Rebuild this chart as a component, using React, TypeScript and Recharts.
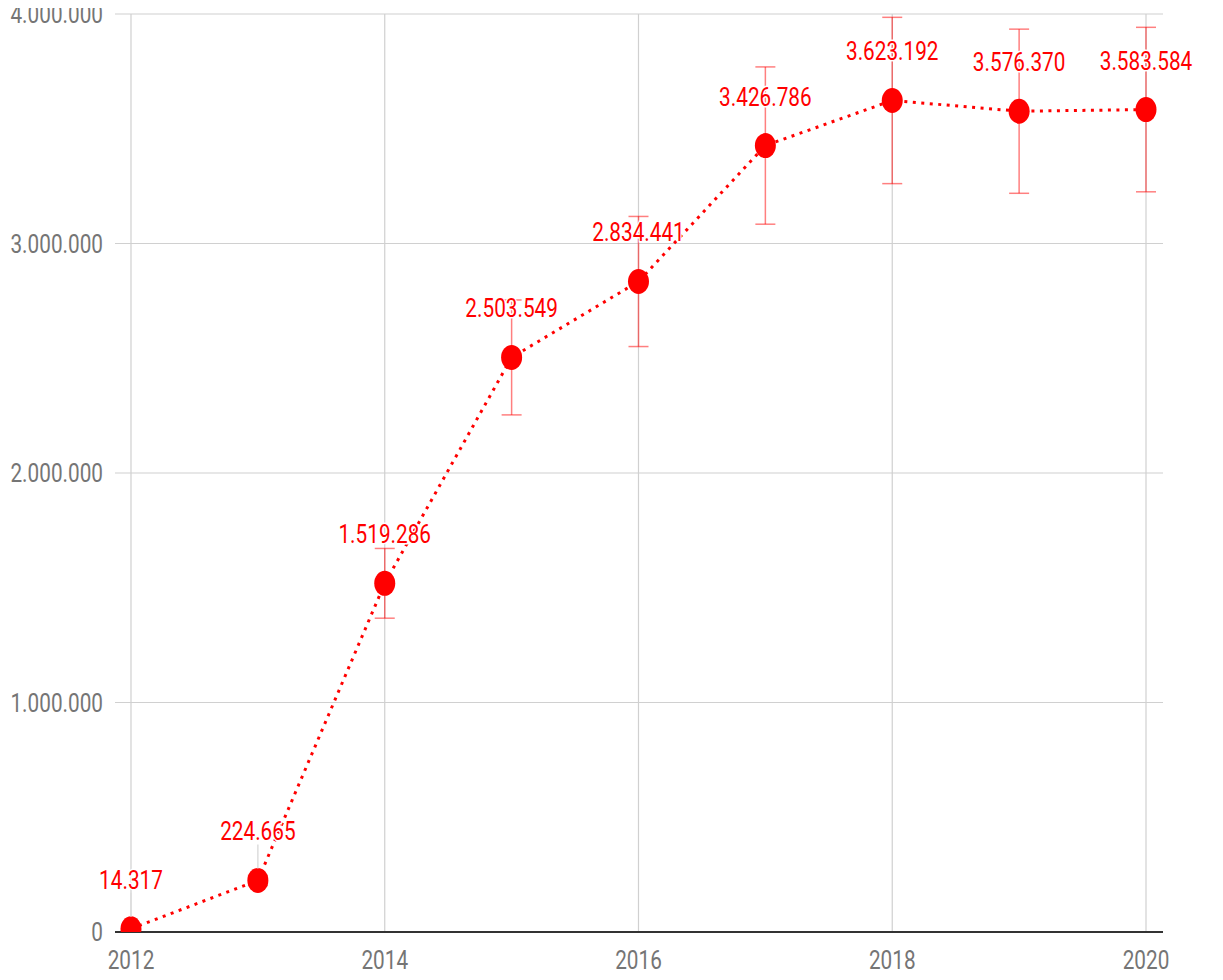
import React from 'react';
import { LineChart, Line, XAxis, YAxis, CartesianGrid, ErrorBar, LabelList, ReferenceLine } from 'recharts';

const years = [2012, 2013, 2014, 2015, 2016, 2017, 2018, 2019, 2020];
const values = [14317, 224665, 1519286, 2503549, 2834441, 3426786, 3623192, 3576370, 3583584];
const errors = [1432, 22467, 151929, 250355, 283444, 342679, 362319, 357637, 358358];
const xTicks = [2012, 2014, 2016, 2018, 2020];
const yTicks = [0, 1000000, 2000000, 3000000, 4000000];

const data = years.map((year, i) => ({ year, v: values[i], err: errors[i] }));

const FONT = 'Roboto, sans-serif';
const SX = 0.83;
const fmt = (n: number) => String(Math.round(n)).replace(/\B(?=(\d{3})+(?!\d))/g, '.');

const YTick = (props: any) => {
  const { x, y, payload } = props;
  return (
    <text transform={`translate(${x},${y}) scale(${SX},1)`} textAnchor="end" dy={9} fill="#757575" fontSize={25} fontFamily={FONT}>
      {fmt(payload.value)}
    </text>
  );
};

const XTick = (props: any) => {
  const { x, y, payload } = props;
  return (
    <text transform={`translate(${x},${y}) scale(${SX},1)`} textAnchor="middle" dy={37} fill="#757575" fontSize={25} fontFamily={FONT}>
      {payload.value}
    </text>
  );
};

const Stem = (props: any) => {
  const { x, y, index } = props;
  if (errors[index] > 100000) return null;
  return <line x1={x} x2={x} y1={y - 36} y2={y - 12} stroke="#dddddd" strokeWidth={1.5} />;
};

const Label = (props: any) => {
  const { x, y, value } = props;
  return (
    <text
      transform={`translate(${x},${y - 40}) scale(${SX},1)`}
      textAnchor="middle"
      fill="#ff0000"
      fontSize={25}
      fontFamily={FONT}
      stroke="#ffffff"
      strokeWidth={3}
      paintOrder="stroke"
    >
      {fmt(value)}
    </text>
  );
};

const Dot = (props: any) => {
  const { cx, cy, index } = props;
  return <ellipse key={`d${index}`} cx={cx} cy={cy} rx={10.5} ry={12.5} fill="#ff0000" />;
};

export default function App() {
  return (
    <div style={{ margin: '-8px 0 0 -8px', width: 1223, height: 980, background: '#fff' }}>
      <LineChart width={1223} height={980} data={data} margin={{ top: 14, right: 60, left: 15, bottom: 0 }}>
        <CartesianGrid stroke="#d0d0d0" strokeWidth={1.2} vertical={false} />
        {xTicks.map((t) => (
          <ReferenceLine key={`vx${t}`} x={t} stroke="#d0d0d0" strokeWidth={1.2} />
        ))}
        <XAxis
          dataKey="year"
          type="number"
          domain={[2011.874, 2020.134]}
          allowDataOverflow
          ticks={xTicks}
          interval={0}
          tickLine={false}
          axisLine={false}
          tickSize={0}
          tickMargin={0}
          height={48}
          tick={<XTick />}
        />
        <YAxis
          type="number"
          domain={[0, 4000000]}
          allowDataOverflow
          ticks={yTicks}
          interval={0}
          tickLine={false}
          axisLine={false}
          tickSize={0}
          tickMargin={12}
          width={100}
          tick={<YTick />}
        />
        <Line dataKey="v" stroke="none" dot={false} activeDot={false} isAnimationActive={false}>
          <ErrorBar dataKey="err" direction="y" width={10} stroke="rgba(255,0,0,0.5)" strokeWidth={1.5} />
          <LabelList dataKey="v" content={<Stem />} />
        </Line>
        <Line
          dataKey="v"
          stroke="#ff0000"
          strokeWidth={3}
          strokeDasharray="3 5.5"
          dot={<Dot />}
          activeDot={false}
          isAnimationActive={false}
        >
          <LabelList dataKey="v" content={<Label />} />
        </Line>
        <ReferenceLine y={0} stroke="#333333" strokeWidth={2} />
      </LineChart>
    </div>
  );
}
